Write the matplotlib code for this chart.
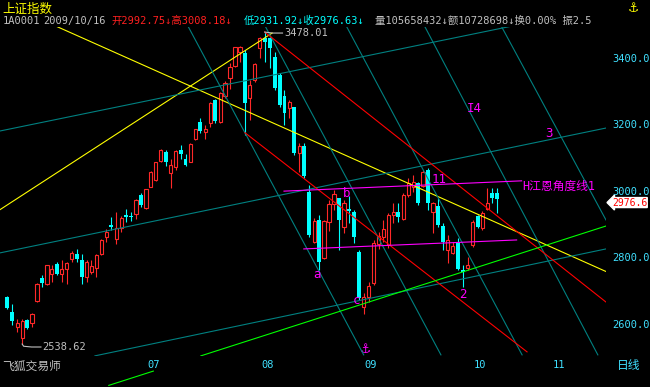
import numpy as np
import matplotlib.pyplot as plt

plt.rcParams['font.family'] = ['DejaVu Sans Mono', 'Noto Sans CJK SC', 'DejaVu Sans']

# 上证指数 日K (开 高 低 收), 约 2009/05 ~ 2009/10/16
opens = [2679, 2635, 2590, 2557, 2611, 2601, 2667, 2738, 2719, 2750,
         2779, 2750, 2765, 2796, 2810, 2792, 2741, 2756, 2768, 2810,
         2860, 2897, 2855, 2889, 2927, 2924, 2930, 2987, 2948, 3012,
         3033, 3090, 3117, 3054, 3073, 3123, 3096, 3088, 3155, 3207,
         3178, 3203, 3273, 3206, 3285, 3339, 3377, 3419, 3414, 3280,
         3334, 3429, 3461, 3459, 3402, 3349, 3286, 3248, 3251, 3113,
         3135, 2997, 2847, 2912, 2797, 2905, 2959, 2977, 2892, 2944,
         2935, 2815, 2651, 2679, 2722, 2839, 2862, 2837, 2927, 2937,
         2915, 2987, 3012, 3023, 3014, 3063, 2937, 2954, 2895, 2822,
         2812, 2847, 2761, 2767, 2837, 2924, 2887, 2944, 2992, 2992.75]
highs = [2683, 2659, 2613, 2613, 2615, 2633, 2722, 2746, 2777, 2777,
         2786, 2792, 2785, 2818, 2824, 2810, 2792, 2792, 2810, 2854,
         2884, 2920, 2937, 2924, 2944, 2936, 2976, 2993, 3006, 3060,
         3088, 3125, 3123, 3096, 3122, 3138, 3110, 3145, 3187, 3219,
         3197, 3268, 3276, 3298, 3331, 3386, 3434, 3437, 3424, 3334,
         3384, 3464, 3478.01, 3464, 3419, 3354, 3304, 3273, 3253, 3143,
         3143, 3017, 2917, 2927, 2912, 2972, 3002, 2979, 2972, 2984,
         2942, 2822, 2691, 2726, 2852, 2877, 2912, 2932, 2962, 2962,
         2992, 3038, 3048, 3027, 3063, 3068, 2967, 2977, 2902, 2867,
         2847, 2857, 2777, 2802, 2912, 2927, 2939, 3007, 3009, 3008.18]
lows = [2644, 2596, 2576, 2538.62, 2585, 2591, 2665, 2711, 2716, 2726,
        2746, 2726, 2719, 2787, 2786, 2720, 2726, 2749, 2741, 2807,
        2846, 2882, 2840, 2877, 2907, 2908, 2916, 2951, 2946, 3011,
        3030, 3087, 3076, 3009, 3063, 3096, 3075, 3087, 3153, 3174,
        3157, 3191, 3205, 3204, 3278, 3306, 3374, 3389, 3168, 3213,
        3327, 3399, 3389, 3369, 3304, 3253, 3198, 3218, 3108, 3058,
        3038, 2862, 2842, 2761, 2794, 2880, 2942, 2822, 2872, 2903,
        2843, 2671, 2630, 2666, 2716, 2824, 2847, 2827, 2902, 2907,
        2912, 2982, 2997, 2957, 3012, 2942, 2872, 2892, 2822, 2782,
        2809, 2761, 2711, 2762, 2832, 2887, 2882, 2942, 2964, 2931.92]
closes = [2648, 2609, 2602, 2608, 2587, 2629, 2719, 2722, 2776, 2764,
          2749, 2764, 2784, 2812, 2796, 2741, 2786, 2773, 2807, 2852,
          2877, 2892, 2889, 2918, 2922, 2921, 2972, 2957, 3005, 3057,
          3086, 3122, 3088, 3077, 3119, 3111, 3078, 3142, 3185, 3180,
          3186, 3265, 3211, 3295, 3324, 3372, 3432, 3433, 3264, 3319,
          3381, 3459, 3449, 3429, 3309, 3258, 3233, 3268, 3113, 3136,
          3045, 2867, 2909, 2787, 2909, 2959, 2989, 2912, 2962, 2940,
          2862, 2676, 2681, 2713, 2842, 2864, 2884, 2927, 2937, 2922,
          2987, 3024, 3027, 2962, 3058, 2962, 2962, 2897, 2845, 2852,
          2834, 2764, 2756, 2777, 2907, 2892, 2934, 2964, 2977, 2976.63]

# 月份刻度 (K线序号)
month_pos = [30.5, 53.5, 74.5, 96.5, 112.5]
month_labels = ['07', '08', '09', '10', '11']
price_ticks = [2600, 2800, 3000, 3200, 3400]

# 画线工具: (起点序号, 起点价, 终点序号, 终点价)
yellow_lines = [(11.1, 3494, 121.95, 2757), (-0.5, 2943, 54.5, 3475)]
teal_up = [(-0.5, 3180, 121.95, 3554), (-0.5, 2813, 121.95, 3189), (18.7, 2503, 121.95, 2825)]
teal_down = [(37.6, 3493, 73.0, 2506), (53.2, 3493, 88.6, 2506), (69.6, 3493, 105.0, 2506),
             (85.4, 3493, 120.3, 2506), (100.9, 3493, 121.95, 2912)]
red_lines = [(53.0, 3478, 121.95, 2665), (49.0, 3175, 106.0, 2515)]
green_line = (40.1, 2503, 121.95, 2894)
magenta_lines = [(56.9, 2999, 104.9, 3030), (60.9, 2825, 103.9, 2852)]
wave_labels = [('a', 62.8, 2747), ('b', 68.8, 2993), ('c', 70.8, 2671), ('11', 86.7, 3033),
               ('2', 92.3, 2689), ('3', 109.6, 3174), ('I4', 93.9, 3249)]

RED = '#ff2828'
CYAN = '#00ffff'
TEAL = '#008080'
GRAY = '#c0c0c0'
LBL = '#40e0ff'
MAG = '#ff00ff'

fig = plt.figure(figsize=(6.5, 3.87), dpi=100, facecolor='black')
ax = fig.add_axes([0, 31 / 387, 606 / 650, 329 / 387])
ax.set_facecolor('black')
ax.set_xlim(-0.475, 121.95)
ax.set_ylim(2502.6, 3493.2)
for s in ax.spines.values():
    s.set_visible(False)

def px(x, y):
    return x / 650, 1 - y / 387

# K线
o = np.array(opens); h = np.array(highs); l = np.array(lows); c = np.array(closes)
xs = np.arange(1, len(c) + 1)
up = c >= o
ax.vlines(xs[up], l[up], h[up], color=RED, lw=0.8, zorder=2)
ax.vlines(xs[~up], l[~up], h[~up], color=CYAN, lw=0.8, zorder=2)
body = np.maximum(np.abs(c - o), 3)
bottom = np.minimum(o, c)
ax.bar(xs[up], body[up], bottom=bottom[up], width=0.66, facecolor='black',
       edgecolor=RED, lw=0.8, zorder=3)
ax.bar(xs[~up], body[~up], bottom=bottom[~up], width=0.8, color=CYAN, lw=0, zorder=3)

# 画线
def seg(line, color, **kw):
    x0, y0, x1, y1 = line
    ax.plot([x0, x1], [y0, y1], color=color, lw=0.8, zorder=4, **kw)

for ln in yellow_lines:
    seg(ln, '#ffff00')
for ln in teal_up + teal_down:
    seg(ln, TEAL)
for ln in red_lines:
    seg(ln, '#ff0000')
seg(green_line, '#00ff00')
# 绿线在日期栏下方露出的一段
gx0, gy0, gx1, gy1 = green_line
k = (gy1 - gy0) / (gx1 - gx0)
ext = np.array([21.5, 30.5])
ax.plot(ext, gy0 + k * (ext - gx0), color='#00ff00', lw=0.8, clip_on=False)
for ln in magenta_lines:
    seg(ln, MAG)

for t, xi, yi in wave_labels:
    ax.text(xi, yi, t, color=MAG, fontsize=9, ha='left', va='center', zorder=5)
ax.text(105.0, 3014, 'H江恩角度线1', color=MAG, fontsize=8.5, ha='left', va='center', zorder=5)
ax.text(73.3, 2521, '⚓', color=MAG, fontsize=9, ha='center', va='center',
        clip_on=False, family='DejaVu Sans')

# 最高/最低标注
ax.plot([53.0, 54.6, 56.6], [3478.01, 3475, 3475], color=GRAY, lw=0.8, zorder=5)
ax.text(56.9, 3475, '%.2f' % max(highs), color=GRAY, fontsize=7.5, va='center', zorder=5)
ax.plot([4.0, 4.3, 5.9, 7.8], [2538.62, 2532, 2529.7, 2529.7], color=GRAY, lw=0.8,
        zorder=5, clip_on=False)
ax.text(8.0, 2529.7, '%.2f' % min(lows), color=GRAY, fontsize=7.5, va='center',
        zorder=5, clip_on=False)

# 坐标
ax.yaxis.tick_right()
ax.set_yticks(price_ticks, ['%.1f' % v for v in price_ticks])
ax.tick_params(axis='y', length=0, pad=4.5, labelcolor=LBL, labelsize=7.5)
ax.set_xticks(month_pos, month_labels)
ax.tick_params(axis='x', length=0, pad=3, labelcolor=LBL, labelsize=7.5)

# 当前价
ax.text(1 + 6 / 606, closes[-1] - 12, '%.1f' % closes[-1], transform=ax.get_yaxis_transform(),
        color='#ff0000', fontsize=7, va='center', ha='left',
        bbox=dict(boxstyle='larrow,pad=0.0', fc='white', ec='white'))

# 顶部信息
fig.text(*px(2, 9), '上证指数', color='#ffff00', fontsize=9, va='center')
fig.text(*px(633, 9), '⚓', color='#ffff00', fontsize=9, ha='center', va='center',
         family='DejaVu Sans')
fig.text(*px(3, 21), '1A0001', color=GRAY, fontsize=7.5, va='center')
fig.text(*px(43, 21), '2009/10/16', color=GRAY, fontsize=7.5, va='center')
fig.text(*px(111, 21), '开2992.75↓高3008.18↓', color='#ff2020', fontsize=7.5, va='center')
fig.text(*px(244, 21), '低2931.92↓收2976.63↓', color=CYAN, fontsize=7.5, va='center')
fig.text(*px(375, 21), '量105658432↓额10728698↓换0.00% 振2.5', color=GRAY,
         fontsize=7.5, va='center')

# 底部
fig.text(*px(2, 366), '飞狐交易师', color=GRAY, fontsize=8.5, va='center')
fig.text(*px(617, 366), '日线', color=LBL, fontsize=8.5, va='center')

fig.savefig('out.png', dpi=100, facecolor='black')
